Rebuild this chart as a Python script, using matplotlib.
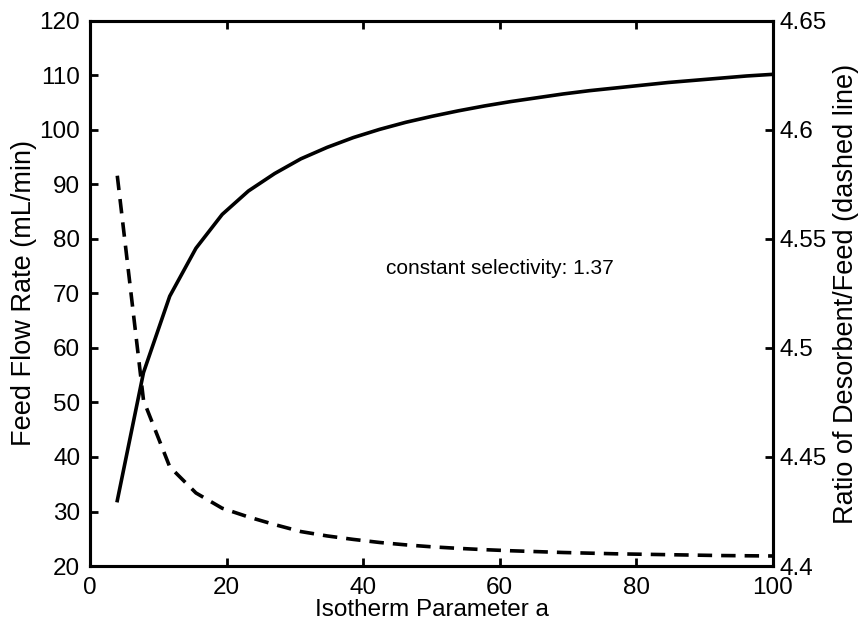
import numpy as np
import matplotlib
matplotlib.use("Agg")
import matplotlib.pyplot as plt
import matplotlib.ticker as mticker

plt.rcParams["font.family"] = ["Liberation Sans", "DejaVu Sans"]

# isotherm parameter a (26 samples, 4..100)
iso_a = [4, 7.84, 11.68, 15.52, 19.36, 23.2, 27.04, 30.88, 34.72, 38.56,
         42.4, 46.24, 50.08, 53.92, 57.76, 61.6, 65.44, 69.28, 73.12, 76.96,
         80.8, 84.64, 88.48, 92.32, 96.16, 100]

# feed flow rate (mL/min), solid line, left axis
feed_rate = [32, 55.5, 69.5, 78.3, 84.5, 88.8, 92.0, 94.7, 96.8, 98.6,
             100.1, 101.4, 102.5, 103.5, 104.4, 105.2, 105.9, 106.6, 107.2, 107.7,
             108.2, 108.7, 109.1, 109.5, 109.9, 110.2]

# desorbent/feed ratio, dashed line, right axis
ratio = [4.579, 4.476, 4.4455, 4.4335, 4.4265, 4.4225, 4.419, 4.4158, 4.4138, 4.4122,
         4.4108, 4.4097, 4.4088, 4.4081, 4.4075, 4.4070, 4.4066, 4.4062, 4.4059, 4.4056,
         4.4054, 4.4052, 4.4050, 4.4048, 4.4047, 4.4046]

fig = plt.figure(figsize=(8.65, 6.28), dpi=100)
ax = fig.add_axes([0.104, 0.0987, 0.7896, 0.868])
ax2 = ax.twinx()

ax.plot(iso_a, feed_rate, color="black", lw=2.6)
ax2.plot(iso_a, ratio, color="black", lw=2.6, dashes=(4, 2.5))

ax.set_xlim(0, 100)
ax.set_ylim(20, 120)
ax2.set_ylim(4.4, 4.65)
ax.set_xticks(range(0, 101, 20))
ax.set_yticks(range(20, 121, 10))
ax2.set_yticks([4.4, 4.45, 4.5, 4.55, 4.6, 4.65])
ax2.yaxis.set_major_formatter(mticker.FuncFormatter(lambda v, p: f"{v:.2f}".rstrip("0")))

ax.set_xlabel("Isotherm Parameter a", fontsize=17.5, labelpad=0)
ax.set_ylabel("Feed Flow Rate (mL/min)", fontsize=19.5, labelpad=2)
ax2.set_ylabel("Ratio of Desorbent/Feed (dashed line)", fontsize=19.5, labelpad=4)

ax.text(60, 74.5, "constant selectivity: 1.37", fontsize=15, ha="center", va="center")

for a in (ax, ax2):
    a.tick_params(direction="in", length=6, width=2, labelsize=17.5, pad=5)
    for s in a.spines.values():
        s.set_linewidth(2.2)
ax.tick_params(top=True)
ax.tick_params(axis="x", pad=8)
ax.tick_params(axis="y", pad=7)

fig.savefig("out.png", dpi=100)
